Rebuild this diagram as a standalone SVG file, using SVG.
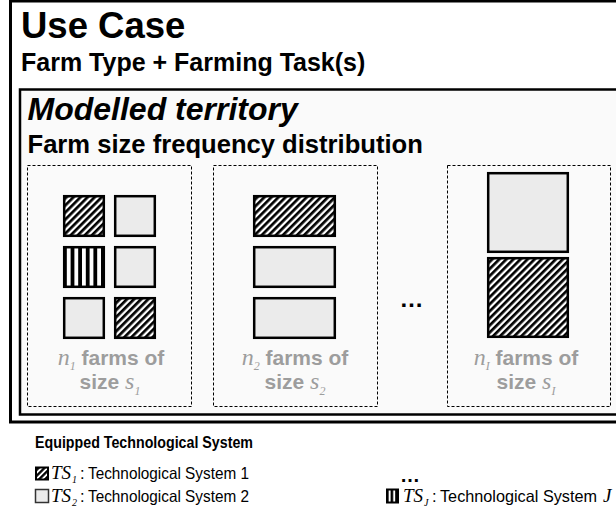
<svg xmlns="http://www.w3.org/2000/svg" width="616" height="523" viewBox="0 0 616 523">
<defs>
<pattern id="diag" patternUnits="userSpaceOnUse" width="5" height="5" patternTransform="rotate(45)">
<rect width="5" height="5" fill="#fff"/><rect width="2.7" height="5" fill="#000"/>
</pattern>
<pattern id="diagS" patternUnits="userSpaceOnUse" width="4.2" height="4.2" patternTransform="rotate(45)">
<rect width="4.2" height="4.2" fill="#fff"/><rect width="2.3" height="4.2" fill="#000"/>
</pattern>
<pattern id="vert" patternUnits="userSpaceOnUse" x="63" y="0" width="7.6" height="10">
<rect width="7.6" height="10" fill="#fff"/><rect width="3.8" height="10" fill="#000"/>
</pattern>
<pattern id="vertS" patternUnits="userSpaceOnUse" x="386" y="0" width="4.6" height="10">
<rect width="4.6" height="10" fill="#fff"/><rect width="2.6" height="10" fill="#000"/>
</pattern>
</defs>
<style>
.box{stroke:#000;stroke-width:2.5}
.plain{fill:#ebebeb}
.hatch{fill:url(#diag)}
.vstripe{fill:url(#vert)}
.panel{fill:#fafafa;stroke:#000;stroke-width:1;stroke-dasharray:3 2}
.t{font-family:"Liberation Sans",Arial,sans-serif;font-weight:bold;fill:#000}
.lab{font-family:"Liberation Sans",Arial,sans-serif;font-weight:bold;fill:#9d9d9d;font-size:21px;text-anchor:middle}
.m{font-family:"Liberation Serif","Times New Roman",serif;font-style:italic;font-weight:normal}
.sub{font-family:"Liberation Serif","Times New Roman",serif;font-style:italic;font-weight:normal;font-size:12px}
.leg{font-family:"Liberation Sans",Arial,sans-serif;font-size:16.5px;fill:#000}
.lm{font-family:"Liberation Serif","Times New Roman",serif;font-style:italic;font-size:19px;fill:#000}
.ls{font-family:"Liberation Serif","Times New Roman",serif;font-style:italic;font-size:10px;fill:#000}
</style>
<rect x="0" y="0" width="616" height="523" fill="#fff"/>

<g id="use-case">
<rect x="10.5" y="1" width="620" height="421" fill="#fff" stroke="#000" stroke-width="3"/>
<text class="t" x="21" y="38" font-size="36.5">Use Case</text>
<text class="t" x="21" y="71" font-size="25">Farm Type + Farming Task(s)</text>
</g>

<g id="modelled-territory">
<rect x="20" y="89.5" width="610" height="325" fill="#fafafa" stroke="#000" stroke-width="2.5"/>
<text class="t" x="27.5" y="120" font-size="32" font-style="italic">Modelled territory</text>
<text class="t" x="27.5" y="153" font-size="25.6">Farm size frequency distribution</text>
</g>

<g id="panel-1">
<rect class="panel" x="27.5" y="165.5" width="164" height="241"/>
<rect class="box hatch" x="64.2" y="196.2" width="39.6" height="39.6"/>
<rect class="box plain" x="115.2" y="196.2" width="39.6" height="39.6"/>
<rect class="box vstripe" x="64.2" y="247.2" width="39.6" height="39.6"/>
<rect class="box plain" x="115.2" y="247.2" width="39.6" height="39.6"/>
<rect class="box plain" x="64.2" y="298.2" width="39.6" height="39.6"/>
<rect class="box hatch" x="115.2" y="298.2" width="39.6" height="39.6"/>
<text class="lab" x="111" y="365"><tspan class="m" font-size="24">n</tspan><tspan class="sub" dy="5">1</tspan><tspan dy="-5"> farms of</tspan></text>
<text class="lab" x="110" y="389">size <tspan class="m" font-size="24">s</tspan><tspan class="sub" dy="6">1</tspan></text>
</g>

<g id="panel-2">
<rect class="panel" x="213.5" y="165.5" width="164" height="241"/>
<rect class="box hatch" x="254.2" y="196.2" width="80.6" height="39.6"/>
<rect class="box plain" x="254.2" y="247.2" width="80.6" height="39.6"/>
<rect class="box plain" x="254.2" y="298.2" width="80.6" height="39.6"/>
<text class="lab" x="295" y="365"><tspan class="m" font-size="24">n</tspan><tspan class="sub" dy="5">2</tspan><tspan dy="-5"> farms of</tspan></text>
<text class="lab" x="295" y="389">size <tspan class="m" font-size="24">s</tspan><tspan class="sub" dy="6">2</tspan></text>
</g>

<text class="t" x="411.5" y="307" font-size="24" text-anchor="middle">…</text>

<g id="panel-I">
<rect class="panel" x="447.5" y="165.5" width="163" height="241"/>
<rect class="box plain" x="488.2" y="173.2" width="79.6" height="78.6"/>
<rect class="box hatch" x="488.2" y="258.2" width="79.6" height="78.6"/>
<text class="lab" x="526" y="365"><tspan class="m" font-size="24">n</tspan><tspan class="sub" dy="5">I</tspan><tspan dy="-5"> farms of</tspan></text>
<text class="lab" x="526" y="389">size <tspan class="m" font-size="24">s</tspan><tspan class="sub" dy="6">I</tspan></text>
</g>

<g id="legend">
<text class="t" x="35" y="448" font-size="17" textLength="218" lengthAdjust="spacingAndGlyphs">Equipped Technological System</text>

<rect x="36" y="467.5" width="12" height="12" fill="url(#diagS)" stroke="#000" stroke-width="2"/>
<text class="lm" x="51" y="479">TS</text><text class="ls" x="72" y="483">1</text>
<text class="leg" x="80" y="479">:</text>
<text class="leg" x="88" y="479" textLength="161" lengthAdjust="spacingAndGlyphs">Technological System 1</text>

<rect x="35.5" y="489.5" width="13" height="13" fill="#ebebeb" stroke="#333" stroke-width="1.5"/>
<text class="lm" x="51" y="502">TS</text><text class="ls" x="72" y="506">2</text>
<text class="leg" x="80" y="502">:</text>
<text class="leg" x="88" y="502" textLength="161" lengthAdjust="spacingAndGlyphs">Technological System 2</text>

<text class="t" x="410" y="482" font-size="20" text-anchor="middle">…</text>

<rect x="387" y="489.5" width="11" height="13" fill="url(#vertS)" stroke="#000" stroke-width="2"/>
<text class="lm" x="403" y="502">TS</text><text class="ls" x="424" y="506">J</text>
<text class="leg" x="432" y="502">:</text>
<text class="leg" x="440" y="502" textLength="157" lengthAdjust="spacingAndGlyphs">Technological System</text>
<text class="lm" x="603" y="502">J</text>
</g>
</svg>
